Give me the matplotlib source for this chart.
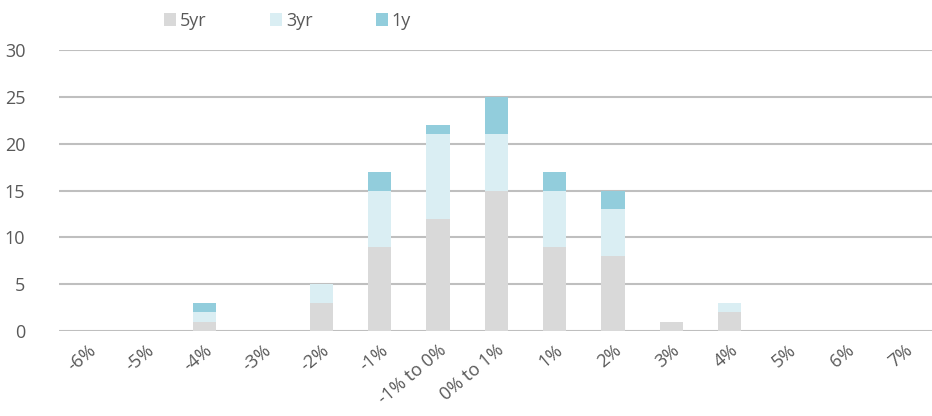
import matplotlib.pyplot as plt
import numpy as np

categories = ["-6%", "-5%", "-4%", "-3%", "-2%", "-1%", "-1% to 0%", "0% to 1%",
              "1%", "2%", "3%", "4%", "5%", "6%", "7%"]
five_yr = [0, 0, 1, 0, 3, 9, 12, 15, 9, 8, 1, 2, 0, 0, 0]
three_yr = [0, 0, 1, 0, 2, 6, 9, 6, 6, 5, 0, 1, 0, 0, 0]
one_yr = [0, 0, 1, 0, 0, 2, 1, 4, 2, 2, 0, 0, 0, 0, 0]

plt.rcParams['font.family'] = ['Open Sans', 'DejaVu Sans']

fig = plt.figure(figsize=(9.32, 4.16), dpi=100)
ax = fig.add_axes([0.063, 0.204, 0.939, 0.676])

x = np.arange(len(categories))
w = 0.4
b1 = np.array(five_yr)
b2 = b1 + np.array(three_yr)
ax.bar(x, five_yr, w, color="#D9D9D9", label="5yr", zorder=3)
ax.bar(x, three_yr, w, bottom=b1, color="#DAEEF3", label="3yr", zorder=3)
ax.bar(x, one_yr, w, bottom=b2, color="#92CDDC", label="1y", zorder=3)

ax.set_xlim(-0.5, len(categories) - 0.5)
ax.set_ylim(0, 30)
ax.set_yticks(range(0, 31, 5))
ax.yaxis.grid(True, color="#BFBFBF", lw=1.5, zorder=0)
for s in ax.spines.values():
    s.set_visible(False)
ax.tick_params(length=0, labelsize=13, colors="#595959", pad=7)
ax.tick_params(axis='y', pad=24, labelsize=13)
ax.set_xticks(x)
ax.set_xticklabels(categories, rotation=40, ha="right", rotation_mode="anchor")

fig.legend(loc="upper left", bbox_to_anchor=(0.158, 1.01), ncol=3, frameon=False,
           fontsize=13, handlelength=0.7, handleheight=0.7, columnspacing=3.5,
           handletextpad=0.2, labelcolor="#595959")

fig.savefig("out.png")
